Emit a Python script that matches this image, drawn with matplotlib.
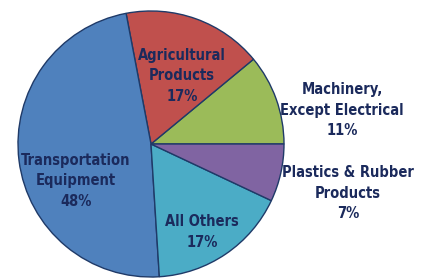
import matplotlib.pyplot as plt

# shares of the pie, counterclockwise from 3 o'clock
labels = ["Machinery,\nExcept Electrical", "Agricultural\nProducts",
          "Transportation\nEquipment", "All Others", "Plastics & Rubber\nProducts"]
values = [11, 17, 48, 17, 7]
colors = ["#9BBB59", "#C0504D", "#4F81BD", "#4BACC6", "#8064A2"]

# label centres in pixel coords (x, y from top)
label_pos = [(342, 110), (182, 76), (76, 181), (202, 232), (348, 193)]

txt_color = "#1B2A5C"
plt.rcParams['font.family'] = ['DejaVu Sans']

W, H = 422, 278
fig = plt.figure(figsize=(W / 100, H / 100), dpi=100)
ax = fig.add_axes([0, 0, 1, 1])

ax.pie(values, colors=colors, startangle=0, counterclock=True,
       center=(151, H - 144), radius=133, frame=True,
       wedgeprops=dict(edgecolor="#1F3A68", linewidth=1.0))
ax.set_xlim(0, W)
ax.set_ylim(0, H)
ax.set_aspect("equal")
ax.axis("off")

for lab, v, (x, y) in zip(labels, values, label_pos):
    ax.text(x, H - y, "%s\n%d%%" % (lab, v), ha="center", va="center",
            fontsize=10.5, fontweight="bold", fontstretch="condensed",
            color=txt_color, linespacing=1.45)

fig.savefig("out.png", dpi=100)
